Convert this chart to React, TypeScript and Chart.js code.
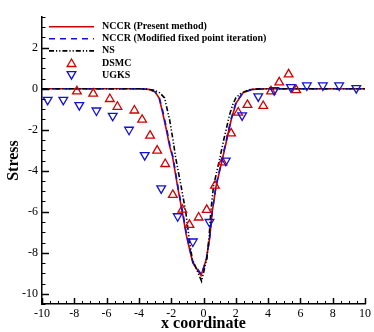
import React, { useEffect, useRef } from 'react';
import { Chart, registerables } from 'chart.js';

Chart.register(...registerables);

// ---- axis ticks ----
const xTickValues = [-10, -8, -6, -4, -2, 0, 2, 4, 6, 8, 10];
const yTickValues = [-10, -8, -6, -4, -2, 0, 2];
const xRange = [-10, 10];
const yRange = [-10.5, 3.5];
const minorStep = 0.5;

// ---- NCCR (Present method) ----
const nccrX = [-10, -4, -3.4, -3.0, -2.75, -2.55, -2.3, -2.1, -1.92, -1.59, -1.28, -1.07, -0.86, -0.66, -0.15, 0.17, 0.38, 0.54, 0.78, 1.15, 1.45, 1.72, 2.02, 2.45, 3.0, 4, 10];
const nccrY = [0, 0, -0.03, -0.15, -0.45, -1.1, -2.0, -2.8, -3.3, -4.84, -6.15, -7.12, -7.84, -8.5, -9.11, -8.33, -7.3, -6.0, -4.75, -3.5, -2.45, -1.5, -0.7, -0.2, -0.03, 0, 0];

// ---- NCCR (Modified fixed point iteration) ----
const modX = [-10, -4, -3.4, -3.0, -2.73, -2.52, -2.27, -2.07, -1.9, -1.57, -1.26, -1.05, -0.84, -0.64, -0.13, 0.18, 0.38, 0.54, 0.77, 1.13, 1.43, 1.7, 2.0, 2.43, 3.0, 4, 10];
const modY = [0, 0, -0.03, -0.15, -0.45, -1.1, -2.0, -2.8, -3.3, -4.84, -6.15, -7.12, -7.84, -8.5, -9.06, -8.33, -7.3, -6.0, -4.75, -3.5, -2.45, -1.5, -0.7, -0.2, -0.03, 0, 0];

// ---- NS ----
const nsX = [-10, -3.8, -3.1, -2.7, -2.41, -2.1, -1.89, -1.72, -1.4, -1.1, -0.92, -0.7, -0.12, 0.2, 0.35, 0.45, 0.62, 0.98, 1.25, 1.4, 1.6, 1.81, 2.0, 2.33, 2.8, 3.5, 10];
const nsY = [0, 0, -0.06, -0.2, -0.45, -1.51, -2.49, -3.38, -4.7, -6.0, -7.1, -8.3, -9.39, -8.3, -7.2, -6.0, -4.75, -3.5, -2.5, -2.0, -1.3, -0.78, -0.45, -0.21, -0.05, 0, 0];

// ---- DSMC ----
const dsmcX = [-7.84, -6.83, -5.8, -5.33, -4.28, -3.8, -3.31, -2.87, -2.37, -1.9, -1.31, -0.87, -0.3, 0.2, 0.71, 1.18, 1.71, 2.15, 2.72, 3.7, 4.18, 4.69, 5.27, 5.74];
const dsmcY = [-0.13, -0.24, -0.5, -0.88, -1.06, -1.51, -2.29, -3.02, -3.67, -5.18, -5.9, -6.64, -6.28, -5.91, -4.73, -3.59, -2.18, -1.16, -0.79, -0.84, -0.13, 0.31, 0.7, -0.07];

// ---- UGKS ----
const ugksX = [-9.65, -8.68, -7.69, -6.63, -5.62, -4.61, -3.64, -2.62, -1.6, -0.66, 0.37, 1.38, 2.39, 3.39, 4.38, 5.41, 6.4, 7.39, 8.4, 9.46];
const ugksY = [-0.54, -0.54, -0.8, -1.06, -1.32, -2.0, -3.24, -4.86, -6.22, -7.45, -6.5, -3.51, -1.3, -0.37, -0.07, 0.08, 0.16, 0.16, 0.16, 0.03];

const RED = '#d00000';
const BLUE = '#1010d8';
const BLACK = '#000000';
const SERIF = "'Liberation Serif', 'Times New Roman', serif";

const toPts = (xs: number[], ys: number[]) => xs.map((x, i) => ({ x, y: ys[i] }));

function drawTriangle(ctx: CanvasRenderingContext2D, x: number, y: number, r: number, rotationDeg: number) {
  let rad = (rotationDeg * Math.PI) / 180;
  ctx.beginPath();
  ctx.moveTo(x + Math.sin(rad) * r, y - Math.cos(rad) * r);
  rad += (2 * Math.PI) / 3;
  ctx.lineTo(x + Math.sin(rad) * r, y - Math.cos(rad) * r);
  rad += (2 * Math.PI) / 3;
  ctx.lineTo(x + Math.sin(rad) * r, y - Math.cos(rad) * r);
  ctx.closePath();
  ctx.stroke();
}

const axisTicksPlugin = {
  id: 'axisTicks',
  afterDraw(chart: any) {
    const { ctx, chartArea, scales } = chart;
    const xs = scales.x;
    const ys = scales.y;
    ctx.save();
    ctx.strokeStyle = BLACK;
    const n = Math.round((xRange[1] - xRange[0]) / minorStep);
    for (let i = 0; i <= n; i++) {
      const v = xRange[0] + i * minorStep;
      const major = xTickValues.some((t) => Math.abs(t - v) < 1e-9);
      const px = Math.round(xs.getPixelForValue(v)) + 0.5;
      ctx.lineWidth = major ? 1.5 : 1;
      ctx.beginPath();
      ctx.moveTo(px, chartArea.bottom);
      ctx.lineTo(px, chartArea.bottom - (major ? 6 : 3));
      ctx.stroke();
    }
    const m = Math.round((yRange[1] - yRange[0]) / minorStep);
    for (let i = 0; i <= m; i++) {
      const v = yRange[0] + i * minorStep;
      const major = yTickValues.some((t) => Math.abs(t - v) < 1e-9);
      const py = Math.round(ys.getPixelForValue(v)) + 0.5;
      ctx.lineWidth = major ? 1.5 : 1;
      ctx.beginPath();
      ctx.moveTo(chartArea.left, py);
      ctx.lineTo(chartArea.left + (major ? 7 : 3.5), py);
      ctx.stroke();
    }
    ctx.restore();
  },
};

const insideLegendPlugin = {
  id: 'insideLegend',
  afterDraw(chart: any) {
    const { ctx, chartArea } = chart;
    const datasets = chart.data.datasets;
    ctx.save();
    ctx.font = `bold 10px ${SERIF}`;
    ctx.textBaseline = 'middle';
    ctx.textAlign = 'left';
    const lineStart = chartArea.left + 7;
    const lineEnd = chartArea.left + 52;
    const textX = chartArea.left + 60;
    datasets.forEach((ds: any, i: number) => {
      const y = chartArea.top + 9.7 + i * 12.1;
      ctx.strokeStyle = ds.borderColor;
      if (ds.showLine) {
        ctx.lineWidth = ds.borderWidth;
        ctx.setLineDash(ds.borderDash || []);
        ctx.beginPath();
        ctx.moveTo(lineStart, y);
        ctx.lineTo(lineEnd, y);
        ctx.stroke();
        ctx.setLineDash([]);
      } else {
        ctx.lineWidth = ds.borderWidth;
        drawTriangle(ctx, (lineStart + lineEnd) / 2, y + (ds.rotation ? -1 : 1), ds.pointRadius, ds.rotation || 0);
      }
      ctx.fillStyle = BLACK;
      ctx.fillText(ds.label, textX, y);
    });
    ctx.restore();
  },
};

export default function App() {
  const ref = useRef<HTMLCanvasElement>(null);

  useEffect(() => {
    document.body.style.margin = '0';
    const canvas = ref.current;
    if (!canvas) return;
    const chart = new Chart(canvas, {
      type: 'scatter',
      data: {
        datasets: [
          {
            label: 'NCCR (Present method)',
            data: toPts(nccrX, nccrY),
            showLine: true,
            borderColor: RED,
            backgroundColor: RED,
            borderWidth: 1.6,
            pointRadius: 0,
            order: 4,
          },
          {
            label: 'NCCR (Modified fixed point iteration)',
            data: toPts(modX, modY),
            showLine: true,
            borderColor: BLUE,
            backgroundColor: BLUE,
            borderWidth: 1.6,
            borderDash: [6, 5],
            pointRadius: 0,
            order: 3,
          },
          {
            label: 'NS',
            data: toPts(nsX, nsY),
            showLine: true,
            borderColor: BLACK,
            backgroundColor: BLACK,
            borderWidth: 1.6,
            borderDash: [5, 2, 1.2, 2, 1.2, 2],
            pointRadius: 0,
            order: 2,
          },
          {
            label: 'DSMC',
            data: toPts(dsmcX, dsmcY),
            showLine: false,
            borderColor: RED,
            backgroundColor: 'rgba(0,0,0,0)',
            borderWidth: 1.3,
            pointStyle: 'triangle',
            pointRadius: 5,
            rotation: 0,
            order: 1,
          },
          {
            label: 'UGKS',
            data: toPts(ugksX, ugksY),
            showLine: false,
            borderColor: BLUE,
            backgroundColor: 'rgba(0,0,0,0)',
            borderWidth: 1.3,
            pointStyle: 'triangle',
            pointRadius: 5,
            rotation: 180,
            order: 0,
          },
        ] as any,
      },
      options: {
        animation: false,
        responsive: false,
        devicePixelRatio: 1,
        layout: { padding: { top: 17, right: 8, left: 0, bottom: 0 } },
        plugins: {
          legend: { display: false },
          tooltip: { enabled: false },
        },
        scales: {
          x: {
            type: 'linear',
            position: 'bottom',
            min: xRange[0],
            max: xRange[1],
            grid: { display: false, drawTicks: false },
            border: { display: true, color: BLACK, width: 1.5 },
            ticks: {
              color: BLACK,
              font: { family: SERIF, size: 12 },
              padding: 3,
              maxRotation: 0,
              autoSkip: false,
            },
            afterBuildTicks: (s: any) => {
              s.ticks = xTickValues.map((v) => ({ value: v }));
            },
            afterFit: (s: any) => {
              s.height = 28;
            },
            title: {
              display: true,
              text: 'x coordinate',
              color: BLACK,
              font: { family: SERIF, size: 16, weight: 'bold', lineHeight: 1 },
              padding: 0,
            },
          },
          y: {
            type: 'linear',
            min: yRange[0],
            max: yRange[1],
            grid: { display: false, drawTicks: false },
            border: { display: true, color: BLACK, width: 1.5 },
            ticks: {
              color: BLACK,
              font: { family: SERIF, size: 12 },
              padding: 4,
              autoSkip: false,
            },
            afterBuildTicks: (s: any) => {
              s.ticks = yTickValues.map((v) => ({ value: v }));
            },
            afterFit: (s: any) => {
              s.width = 42;
            },
            title: {
              display: true,
              text: 'Stress',
              color: BLACK,
              font: { family: SERIF, size: 16, weight: 'bold', lineHeight: 1 },
              padding: { top: 6, bottom: 0 },
            },
          },
        },
      } as any,
      plugins: [axisTicksPlugin, insideLegendPlugin],
    });
    return () => chart.destroy();
  }, []);

  return <canvas ref={ref} width={374} height={332} style={{ display: 'block', width: 374, height: 332 }} />;
}
